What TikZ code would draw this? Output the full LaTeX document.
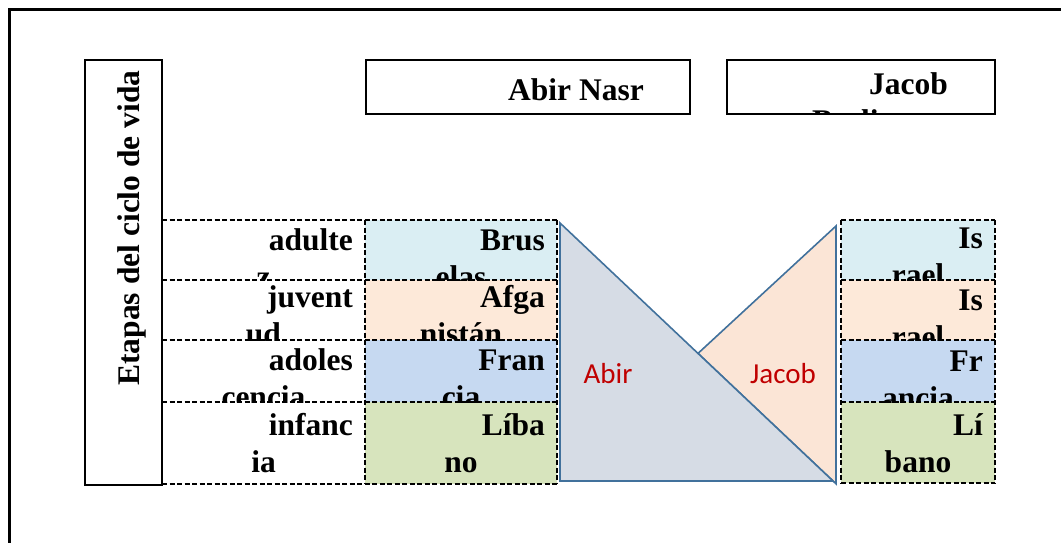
\documentclass[tikz,border=0pt]{standalone}
\usepackage{fontspec}
\setmainfont{Liberation Serif}
\newfontfamily\calib{Carlito}
\definecolor{rowA}{HTML}{DAEEF3}
\definecolor{rowB}{HTML}{FDE9D9}
\definecolor{rowC}{HTML}{C6D9F1}
\definecolor{rowD}{HTML}{D7E4BD}
\definecolor{triA}{HTML}{D6DCE5}
\definecolor{triB}{HTML}{FBE5D6}
\definecolor{triEdge}{HTML}{41719C}
\definecolor{labRed}{HTML}{C00000}
\tikzset{
  cellbox/.style={inner sep=0pt, outer sep=0pt, anchor=north west},
  gridline/.style={draw=black, dash pattern=on 5pt off 2.5pt, line width=1.7pt},
  solidbox/.style={draw=black, line width=2.6pt, inner sep=0pt, outer sep=0pt, anchor=north west, fill=white},
  txt/.style={font=\fontsize{31.5}{37}\selectfont\bfseries, inner sep=0pt, text=black},
  tri/.style={draw=triEdge, line width=1.6pt, line join=miter},
  triLabel/.style={font=\calib\fontsize{29}{34}\selectfont, text=labRed, inner sep=0pt}
}
\newcommand\celltxt[8]{%
  \begin{scope}
    \clip (#2,#3) rectangle (#4,#5);
    \node[txt,anchor=base east] (#1a) at ({#4-12},#6) {#7};
    \node[txt,anchor=base] (#1b) at ({(#2+#4)/2},{#6+37}) {#8};
  \end{scope}}
\begin{document}
\begin{tikzpicture}[x=1pt,y=-1pt]
\useasboundingbox (0,0) rectangle (1061,542);
\clip (0,0) rectangle (1061,542);
\fill[white] (0,0) rectangle (1061,542);
% outer frame
\draw[line width=3pt] (9,9) rectangle (1090,580);

% column 1 cells (labels)
\node[cellbox, minimum width=203pt, minimum height=60pt] (l1) at (162,220) {};
\node[cellbox, minimum width=203pt, minimum height=60pt] (l2) at (162,280) {};
\node[cellbox, minimum width=203pt, minimum height=62pt] (l3) at (162,340) {};
\node[cellbox, minimum width=203pt, minimum height=82pt] (l4) at (162,402) {};
% column 2 cells (Abir)
\node[cellbox, fill=rowA, minimum width=192pt, minimum height=60pt] (a1) at (365,220) {};
\node[cellbox, fill=rowB, minimum width=192pt, minimum height=60pt] (a2) at (365,280) {};
\node[cellbox, fill=rowC, minimum width=192pt, minimum height=62pt] (a3) at (365,340) {};
\node[cellbox, fill=rowD, minimum width=192pt, minimum height=82pt] (a4) at (365,402) {};
% column 3 cells (Jacob)
\node[cellbox, fill=rowA, minimum width=154pt, minimum height=60pt] (j1) at (841,220) {};
\node[cellbox, fill=rowB, minimum width=154pt, minimum height=60pt] (j2) at (841,280) {};
\node[cellbox, fill=rowC, minimum width=154pt, minimum height=62pt] (j3) at (841,340) {};
\node[cellbox, fill=rowD, minimum width=154pt, minimum height=81pt] (j4) at (841,402) {};

% cell texts
\celltxt{tl1}{162}{220}{365}{280}{250}{adulte}{z}
\celltxt{tl2}{162}{280}{365}{340}{307}{juvent}{ud}
\celltxt{tl3}{162}{340}{365}{402}{370}{adoles}{cencia}
\celltxt{tl4}{162}{402}{365}{484}{435}{infanc}{ia}
\celltxt{ta1}{365}{220}{557}{280}{250}{Brus}{elas}
\celltxt{ta2}{365}{280}{557}{340}{307}{Afga}{nistán}
\celltxt{ta3}{365}{340}{557}{402}{370}{Fran}{cia}
\celltxt{ta4}{365}{402}{557}{484}{435}{Líba}{no}
\celltxt{tj1}{841}{220}{995}{280}{248}{Is}{rael}
\celltxt{tj2}{841}{280}{995}{340}{310}{Is}{rael}
\celltxt{tj3}{841}{340}{995}{402}{371}{Fr}{ancia}
\celltxt{tj4}{841}{402}{995}{483}{435}{Lí}{bano}

% dashed grid of the left table
\draw[gridline] (l1.north west) -- (a1.north east);
\draw[gridline] (l2.north west) -- (a2.north east);
\draw[gridline] (l3.north west) -- (a3.north east);
\draw[gridline] (l4.north west) -- (a4.north east);
\draw[gridline] (l4.south west) -- (a4.south east);
\draw[gridline] (a1.north west) -- (a4.south west);
\draw[gridline] (a1.north east) -- (a4.south east);
% dashed grid of the right table
\draw[gridline] (j1.north west) -- (j1.north east);
\draw[gridline] (j2.north west) -- (j2.north east);
\draw[gridline] (j3.north west) -- (j3.north east);
\draw[gridline] (j4.north west) -- (j4.north east);
\draw[gridline] (j4.south west) -- (j4.south east);
\draw[gridline] (j1.north west) -- (j4.south west);
\draw[gridline] (j1.north east) -- (j4.south east);

% title box
\node[solidbox, minimum width=77pt, minimum height=425pt] (title) at (85,60) {};
\node[txt, rotate=90, anchor=base] (titletxt) at (139,228) {Etapas del ciclo de vida};

% header boxes
\node[solidbox, minimum width=324pt, minimum height=54pt] (hA) at (366,60) {};
\node[txt, anchor=base west] (hAtxt) at (508,100) {Abir Nasr};
\node[solidbox, minimum width=268pt, minimum height=54pt] (hJ) at (727,60) {};
\begin{scope}
  \clip (727,60) rectangle (995,113);
  \node[txt, anchor=base west] (hJtxt1) at (869,94) {Jacob};
  \node[txt, anchor=base west] (hJtxt2) at (812,131) {Berliner};
\end{scope}

% triangles
\draw[tri, fill=triB] (836,226) -- (836,483.8) -- (698,353.4) -- cycle;
\draw[tri, fill=triA] (560,223) -- (560,481) -- (833,481) -- cycle;
\node[triLabel] (labA) at (608,374) {Abir};
\node[triLabel] (labJ) at (783,374) {Jacob};
\end{tikzpicture}
\end{document}
